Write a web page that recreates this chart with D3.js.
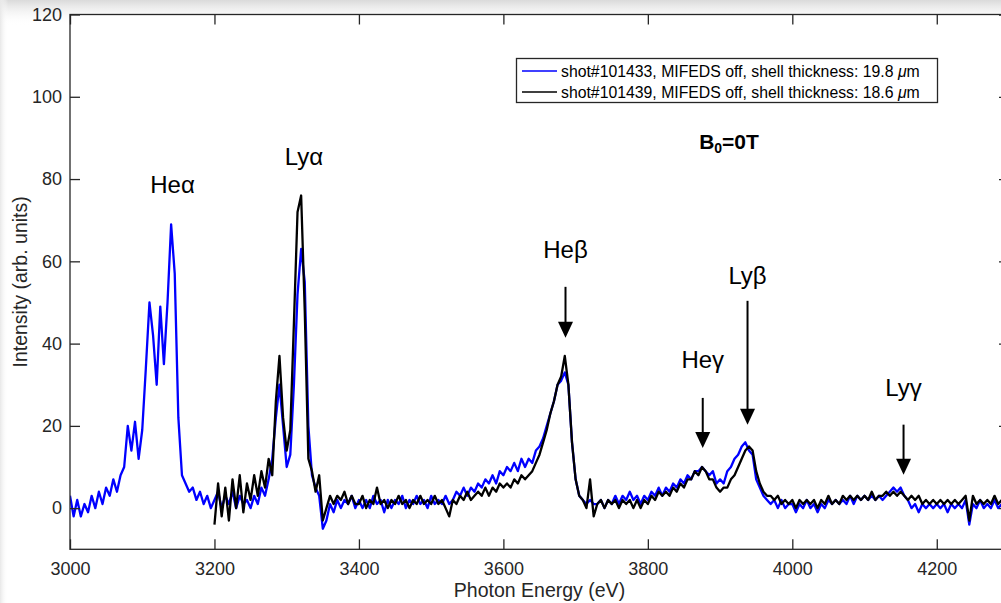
<!DOCTYPE html>
<html><head><meta charset="utf-8">
<script src="https://cdn.jsdelivr.net/npm/d3@7"></script>
<style>
body{margin:0;background:#fff;}
svg{display:block;}
text{font-family:"Liberation Sans",Arial,Helvetica,sans-serif;}
</style>
</head><body>
<svg id="c" width="1001" height="603"></svg>
<script>
// ---------- data ----------
const energyStep = 5;
const blueStart = 3000;   // shot#101433
const blackStart = 3200;  // shot#101439
const blueValues = [
  3,-2,2,-2,1,-1,3,0,4,1,5,3,7,4,8,10,20,14,21,12,
  19,34,50,42,30,49,35,50,69,57,22,8,6,4,5,2,4,1,3,0,
  2,4,0,3,1,4,0,3,1,2,0,3,1,5,3,7,12,22,30,20,
  10,13,30,52,63,55,20,8,5,3,-5,-3,1,-1,2,0,2,1,3,0,
  2,0,2,0,3,1,2,-1,2,0,2,1,3,0,2,1,3,1,2,0,
  3,1,2,1,3,1,2,4,3,5,3,5,4,6,5,7,6,8,6,9,
  8,10,9,11,9,12,10,12,11,14,15,17,20,23,26,30,31,33,30,16,
  7,3,2,1,2,1,1,2,0,2,1,3,1,3,2,4,2,3,1,3,
  2,4,3,5,3,5,4,6,5,7,6,8,7,9,9,10,9,8,9,6,
  7,6,9,10,12,13,15,16,14,13,7,5,3,2,1,2,0,2,0,1,
  1,-1,1,0,2,0,1,-1,1,0,2,1,2,1,2,1,3,1,3,2,
  3,2,3,2,3,2,3,4,5,4,5,3,2,0,1,-1,1,0,1,0,
  1,0,1,-1,1,0,1,0,2,-4,1,0,2,0,1,0,2,0,1,0,1
];
const blackValues = [
  -4,6,-2,5,-3,7,0,8,-1,6,2,8,3,9,5,12,8,26,37,22,
  14,19,45,72,76,48,12,9,4,8,-3,0,3,1,3,2,4,1,3,1,
  1,3,0,2,1,5,1,2,0,2,1,3,1,2,0,2,1,3,1,2,
  1,3,1,2,0,-2,2,1,3,2,4,2,3,4,3,5,3,5,4,6,
  5,6,5,7,6,8,7,8,9,11,13,16,19,23,26,30,32,37,30,16,
  7,3,2,0,7,-2,1,2,0,2,1,2,0,2,1,2,0,2,0,2,
  1,3,2,4,3,4,3,5,4,6,5,7,7,9,8,10,9,7,7,5,
  4,5,5,7,8,10,12,14,15,14,9,6,4,3,3,2,3,1,2,1,
  2,0,2,1,2,1,2,0,2,1,3,1,2,1,3,2,3,2,3,2,
  3,2,4,2,3,3,4,3,4,3,4,3,2,3,2,3,1,2,1,2,
  1,2,1,2,1,2,1,2,3,-3,3,1,2,1,2,1,3,1,2,1,2
];
const xTicks = [3000,3200,3400,3600,3800,4000,4200];
const yTicks = [0,20,40,60,80,100,120];
const xDomain = [3000,4300];
const yDomain = [-10,120];
const legendLabels = ["shot#101433, MIFEDS off, shell thickness: 19.8 ", "shot#101439, MIFEDS off, shell thickness: 18.6 "];
const seriesColors = ["#0000ff","#000000"];
// line labels (energy of centre, value of baseline)
const lineLabels = ["He\u03b1","Ly\u03b1","He\u03b2","He\u03b3","Ly\u03b2","Ly\u03b3"];
const lineLabelEnergy = [3142,3324,3686,3876,3938,4154];
const lineLabelValue = [76.6,83.3,60.7,34.1,54.5,27.3];
// arrows
const arrowEnergy = [3686,3876,3938,4154];
const arrowTop = [53.8,26.8,50.4,20.3];
const arrowBottom = [41.4,14.6,20.3,8.1];

// ---------- drawing ----------
const svg = d3.select("#c");
const L = 70, R = 1009, T = 14.5, B = 549.3;
const x = d3.scaleLinear().domain(xDomain).range([L,R]);
const y = d3.scaleLinear().domain(yDomain).range([B,T]);
const axisColor = "#262626";

const defs = svg.append("defs");
const g1 = defs.append("linearGradient").attr("id","topg").attr("x1",0).attr("y1",0).attr("x2",0).attr("y2",1);
g1.append("stop").attr("offset",0).attr("stop-color","#dadada");
g1.append("stop").attr("offset",1).attr("stop-color","#ffffff").attr("stop-opacity",0);
const g2 = defs.append("linearGradient").attr("id","leftg").attr("x1",0).attr("y1",0).attr("x2",1).attr("y2",0);
g2.append("stop").attr("offset",0).attr("stop-color","#e8e8e8");
g2.append("stop").attr("offset",1).attr("stop-color","#ffffff").attr("stop-opacity",0);
defs.append("clipPath").attr("id","plotclip").append("rect")
  .attr("x",L).attr("y",T).attr("width",R-L).attr("height",B-T);

svg.append("rect").attr("width",1001).attr("height",603).attr("fill","#fff");
svg.append("rect").attr("width",1001).attr("height",26).attr("fill","url(#topg)");
svg.append("rect").attr("width",8).attr("height",603).attr("fill","url(#leftg)");
svg.append("rect").attr("x",L).attr("y",T).attr("width",R-L).attr("height",B-T).attr("fill","#fff");

// data lines
const line = (start) => d3.line()
  .x((d,i) => x(start + i*energyStep))
  .y(d => y(d));
const dg = svg.append("g").attr("clip-path","url(#plotclip)");
dg.append("path").datum(blueValues).attr("d", line(blueStart))
  .attr("fill","none").attr("stroke",seriesColors[0]).attr("stroke-width",2.3).attr("stroke-linejoin","round");
dg.append("path").datum(blackValues).attr("d", line(blackStart))
  .attr("fill","none").attr("stroke",seriesColors[1]).attr("stroke-width",2.3).attr("stroke-linejoin","round");

// axes
function styleAxis(g){
  g.select(".domain").remove();
  g.selectAll(".tick line").attr("stroke",axisColor).attr("stroke-width",1.3);
  g.selectAll(".tick text").attr("fill",axisColor).style("font-size","18px")
    .style("font-family",'"Liberation Sans",Arial,sans-serif');
}
svg.append("g").attr("transform",`translate(0,${B})`)
  .call(d3.axisBottom(x).tickValues(xTicks).tickSizeInner(-10).tickSizeOuter(0).tickPadding(13).tickFormat(d3.format("d")))
  .call(styleAxis);
svg.append("g").attr("transform",`translate(0,${T})`)
  .call(d3.axisTop(x).tickValues(xTicks).tickSizeInner(-10).tickSizeOuter(0).tickFormat(""))
  .call(styleAxis);
svg.append("g").attr("transform",`translate(${L},0)`)
  .call(d3.axisLeft(y).tickValues(yTicks).tickSizeInner(-10).tickSizeOuter(0).tickPadding(8).tickFormat(d3.format("d")))
  .call(styleAxis);
svg.append("g").attr("transform",`translate(${R},0)`)
  .call(d3.axisRight(y).tickValues(yTicks).tickSizeInner(-10).tickSizeOuter(0).tickFormat(""))
  .call(styleAxis);
svg.append("rect").attr("x",L).attr("y",T).attr("width",R-L).attr("height",B-T)
  .attr("fill","none").attr("stroke",axisColor).attr("stroke-width",1.3);

// axis labels
svg.append("text").attr("x",(L+R)/2).attr("y",597).attr("text-anchor","middle")
  .style("font-size","19.5px").attr("fill",axisColor).text("Photon Energy (eV)");
svg.append("text").attr("transform",`translate(27,${(T+B)/2}) rotate(-90)`).attr("text-anchor","middle")
  .style("font-size","19.5px").attr("fill",axisColor).text("Intensity (arb. units)");

// line labels
svg.append("g").selectAll("text").data(lineLabels).join("text")
  .attr("x",(d,i)=>x(lineLabelEnergy[i])).attr("y",(d,i)=>y(lineLabelValue[i]))
  .attr("text-anchor","middle").style("font-size","24px").attr("fill","#000").text(d=>d);

// arrows
const ag = svg.append("g");
arrowEnergy.forEach((e,i)=>{
  const ax = x(e), y0 = y(arrowTop[i]), y1 = y(arrowBottom[i]);
  ag.append("line").attr("x1",ax).attr("x2",ax).attr("y1",y0).attr("y2",y1-14)
    .attr("stroke","#000").attr("stroke-width",2);
  ag.append("path").attr("d",`M${ax-7.5},${y1-16}L${ax+7.5},${y1-16}L${ax},${y1}Z`).attr("fill","#000");
});

// B0 label
const bt = svg.append("text").attr("x",x(3871)).attr("y",y(87.3)).style("font-size","21px").style("font-weight","bold").attr("fill","#000");
bt.append("tspan").text("B");
bt.append("tspan").attr("dy",4).style("font-size","14px").text("0");
bt.append("tspan").attr("dy",-4).text("=0T");

// legend
const lg = svg.append("g");
lg.append("rect").attr("x",516.5).attr("y",58.5).attr("width",421).attr("height",44)
  .attr("fill","#fff").attr("stroke",axisColor).attr("stroke-width",1.3);
legendLabels.forEach((lab,i)=>{
  const cy = 71 + i*21;
  lg.append("line").attr("x1",522).attr("x2",557).attr("y1",cy).attr("y2",cy)
    .attr("stroke",seriesColors[i]).attr("stroke-width",1.6);
  const t = lg.append("text").attr("x",561).attr("y",cy+5.5).style("font-size","15.8px").attr("fill","#000");
  t.append("tspan").text(lab);
  t.append("tspan").style("font-style","italic").text("\u03bc");
  t.append("tspan").text("m");
});
</script>
</body></html>
